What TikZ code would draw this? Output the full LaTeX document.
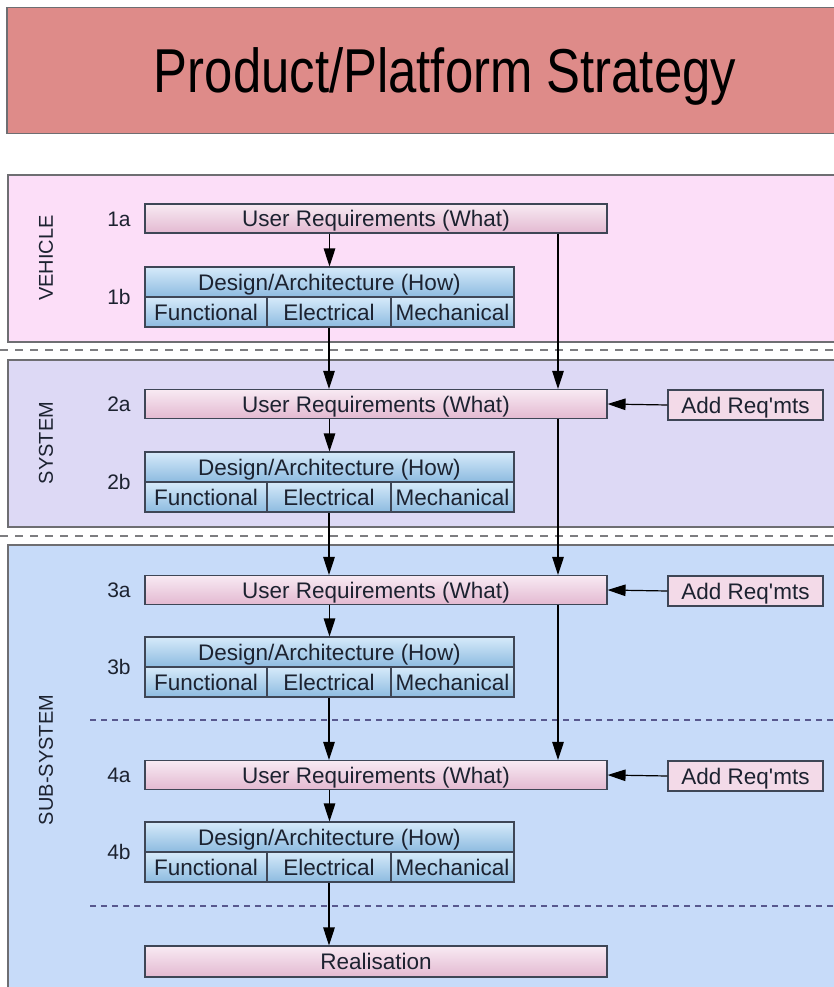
\documentclass[tikz,border=0pt]{standalone}
\usepackage{fontspec}
\setmainfont{Liberation Sans}
\usetikzlibrary{arrows.meta}

\definecolor{titlefill}{HTML}{DE8B89}
\definecolor{vehfill}{HTML}{FCDEF8}
\definecolor{sysfill}{HTML}{DDD9F5}
\definecolor{subfill}{HTML}{C7DBF9}
\definecolor{panelline}{HTML}{6E6E72}
\definecolor{boxline}{HTML}{3E4656}
\definecolor{whattop}{HTML}{F8EAF3}
\definecolor{whatbot}{HTML}{E3B9D1}
\definecolor{howtop}{HTML}{D6EAFA}
\definecolor{howbot}{HTML}{8DBBE0}
\definecolor{addfill}{HTML}{F3DAE8}
\definecolor{inktext}{HTML}{1C2230}

\tikzset{
  panel/.style={draw=panelline, line width=1.5pt},
  sep/.style={draw=panelline!90, line width=1.4pt, dash pattern=on 8pt off 7pt},
  subsep/.style={draw=panelline!80!blue, line width=1.3pt, dash pattern=on 6pt off 5pt},
  lbl/.style={font=\fontsize{21}{24}\selectfont, text=inktext, inner sep=0pt},
  vlabel/.style={font=\fontsize{20}{24}\selectfont, text=inktext, rotate=90, inner sep=0pt},
  boxtext/.style={inner sep=0pt, text=inktext, font=\fontsize{22.5}{26}\selectfont,
    text height=16.1pt, text depth=0pt},
  whatbox/.style={boxtext, draw=boxline, line width=1.1pt, top color=whattop,
    bottom color=whatbot, minimum width=462pt, minimum height=29pt},
  howbox/.style={boxtext, draw=boxline, line width=1.1pt, top color=howtop,
    bottom color=howbot, minimum height=30pt},
  addbox/.style={boxtext, draw=boxline, line width=1.1pt, fill=addfill,
    minimum width=155pt, minimum height=30pt},
  arr/.style={draw=black, line width=1.2pt, -{Triangle[length=18pt,width=11.5pt]}},
}

% one design/architecture block: header plus three discipline cells
\newcommand{\howblock}[2]{%
  \node[howbox, minimum width=369pt] (h#1) at (329.5,#2) {Design/Architecture (How)};
  \node[howbox, minimum width=122pt] (f#1) at (206,#2+30) {Functional};
  \node[howbox, minimum width=124pt] (e#1) at (329,#2+30) {Electrical};
  \node[howbox, minimum width=123pt] (m#1) at (452.5,#2+30) {Mechanical};
}

\begin{document}
\begin{tikzpicture}[x=1pt, y=-1pt]
\useasboundingbox (0,0) rectangle (833,987);
\fill[white] (0,0) rectangle (833,987);

% title banner
\node[panel, fill=titlefill, minimum width=840pt, minimum height=126pt, anchor=north west,
  inner sep=0pt] (title) at (6,7) {};
\node[inner sep=0pt, anchor=base, xscale=0.82, font=\fontsize{62}{68}\selectfont, text=black]
  (titletext) at (445,93) {Product/Platform Strategy};

% level panels
\draw[panel, fill=vehfill] (8,175) rectangle (848,342);
\draw[panel, fill=sysfill] (8,360) rectangle (848,527);
\draw[panel, fill=subfill] (8,545) rectangle (848,1000);

% separators between levels
\draw[sep] (0,350) -- (833,350);
\draw[sep] (0,536) -- (833,536);
\draw[subsep] (90,720) -- (833,720);
\draw[subsep] (90,906) -- (833,906);

% level names
\node[vlabel] (lvveh) at (46,258) {VEHICLE};
\node[vlabel] (lvsys) at (46,443) {SYSTEM};
\node[vlabel] (lvsub) at (46,760) {SUB-SYSTEM};

% row labels
\node[lbl] (l1a) at (119,219) {1a};
\node[lbl] (l1b) at (119,297) {1b};
\node[lbl] (l2a) at (119,404) {2a};
\node[lbl] (l2b) at (119,482) {2b};
\node[lbl] (l3a) at (119,590) {3a};
\node[lbl] (l3b) at (119,667) {3b};
\node[lbl] (l4a) at (119,775) {4a};
\node[lbl] (l4b) at (119,852) {4b};

% requirement boxes
\node[whatbox] (u1) at (376,218.5) {User Requirements (What)};
\node[whatbox] (u2) at (376,404) {User Requirements (What)};
\node[whatbox] (u3) at (376,590) {User Requirements (What)};
\node[whatbox] (u4) at (376,775) {User Requirements (What)};
\node[whatbox, minimum height=31pt] (real) at (376,961.5) {Realisation};

% design blocks
\howblock{1}{282}
\howblock{2}{467}
\howblock{3}{652}
\howblock{4}{837}

% additional requirements
\node[addbox] (a2) at (745.5,405) {Add Req\textquotesingle mts};
\node[addbox] (a3) at (745.5,591) {Add Req\textquotesingle mts};
\node[addbox] (a4) at (745.5,776) {Add Req\textquotesingle mts};

% bypass column
\coordinate (by) at (558,0);

% main flow
\draw[arr] (u1.south -| h1.north) -- (h1.north);
\draw[arr] (e1.south) -- (e1.south |- u2.north);
\draw[arr] (u2.south -| h2.north) -- (h2.north);
\draw[arr] (e2.south) -- (e2.south |- u3.north);
\draw[arr] (u3.south -| h3.north) -- (h3.north);
\draw[arr] (e3.south) -- (e3.south |- u4.north);
\draw[arr] (u4.south -| h4.north) -- (h4.north);
\draw[arr] (e4.south) -- (e4.south |- real.north);

% requirements passed straight down
\draw[arr] (u1.south -| by) -- (u2.north -| by);
\draw[arr] (u2.south -| by) -- (u3.north -| by);
\draw[arr] (u3.south -| by) -- (u4.north -| by);

% added requirements
\draw[arr] (a2.west) -- (u2.east);
\draw[arr] (a3.west) -- (u3.east);
\draw[arr] (a4.west) -- (u4.east);
\end{tikzpicture}
\end{document}
